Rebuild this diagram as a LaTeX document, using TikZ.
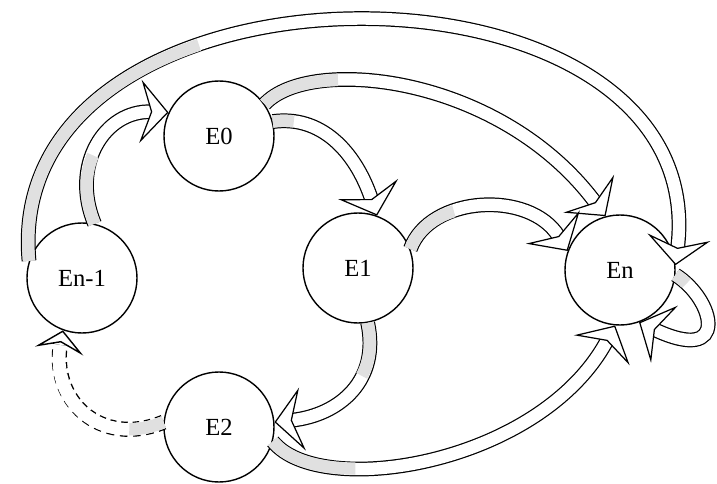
\documentclass[tikz,border=0pt]{standalone}
\usepackage{fontspec}
\setmainfont{Liberation Serif}
\usetikzlibrary{arrows.meta}
\definecolor{dotgray}{gray}{0.88}

\begin{document}
\begin{tikzpicture}[
    state/.style={circle, draw=black, thick, minimum size=2.2cm, inner sep=0pt, font=\fontsize{14}{16}\selectfont},
    band/.style={draw=black, line width=0.7pt, double=white, double distance=7pt,
        -{Stealth[length=16pt, width=36pt, inset=6pt, fill=white]},
        postaction={draw=dotgray, line width=7pt, dash pattern=on #1 off 5000pt, -}},
    band/.default=40pt,
    dashband/.style={draw=black, line width=0.8pt, double=white, double distance=7pt,
        dash pattern=on 4pt off 3pt,
        -{Stealth[length=12pt, width=28pt, inset=5pt, fill=white]},
        postaction={draw=white, line width=7pt, solid, shorten >=9pt, -},
        postaction={draw=dotgray, line width=7pt, dash pattern=on #1 off 5000pt, -}}
]
\useasboundingbox (0,0) rectangle (14.34,9.66);

% States
\node[state] (e0) at (4.38,6.94) {E0};
\node[state] (e1) at (7.16,4.30) {E1};
\node[state] (e2) at (4.38,1.12) {E2};
\node[state] (elast) at (1.64,4.10) {En-1};
\node[state] (en) at (12.40,4.26) {En};

% Transitions
\draw[band=170pt] (elast.162) .. controls (0.0,10.86) and (14.3,10.86) .. (en.5);
\draw[band=40pt] (elast.77) .. controls (1.4,6.36) and (2.1,7.46) .. (e0.155);
\draw[band=12pt] (e0.15) .. controls (6.4,7.36) and (7.1,6.66) .. (e1.70);
\draw[band=45pt] (e0.35) .. controls (6.2,8.56) and (10.0,8.16) .. (en.105);
\draw[band=34pt] (e1.20) .. controls (8.6,5.76) and (10.6,5.86) .. (en.160);
\draw[band=31pt] (e1.-80) .. controls (7.6,2.06) and (6.8,1.36) .. (e2.5);
\draw[band=51pt] (e2.-15) .. controls (6.4,-0.34) and (10.8,0.36) .. (en.-95);
\draw[dashband=20pt] (e2.175) .. controls (2.0,0.70) and (1.0,1.66) .. (elast.-110);
\draw[band=8pt] (en.-5) .. controls (14.3,3.66) and (14.6,2.36) .. (en.-70);
\end{tikzpicture}
\end{document}
